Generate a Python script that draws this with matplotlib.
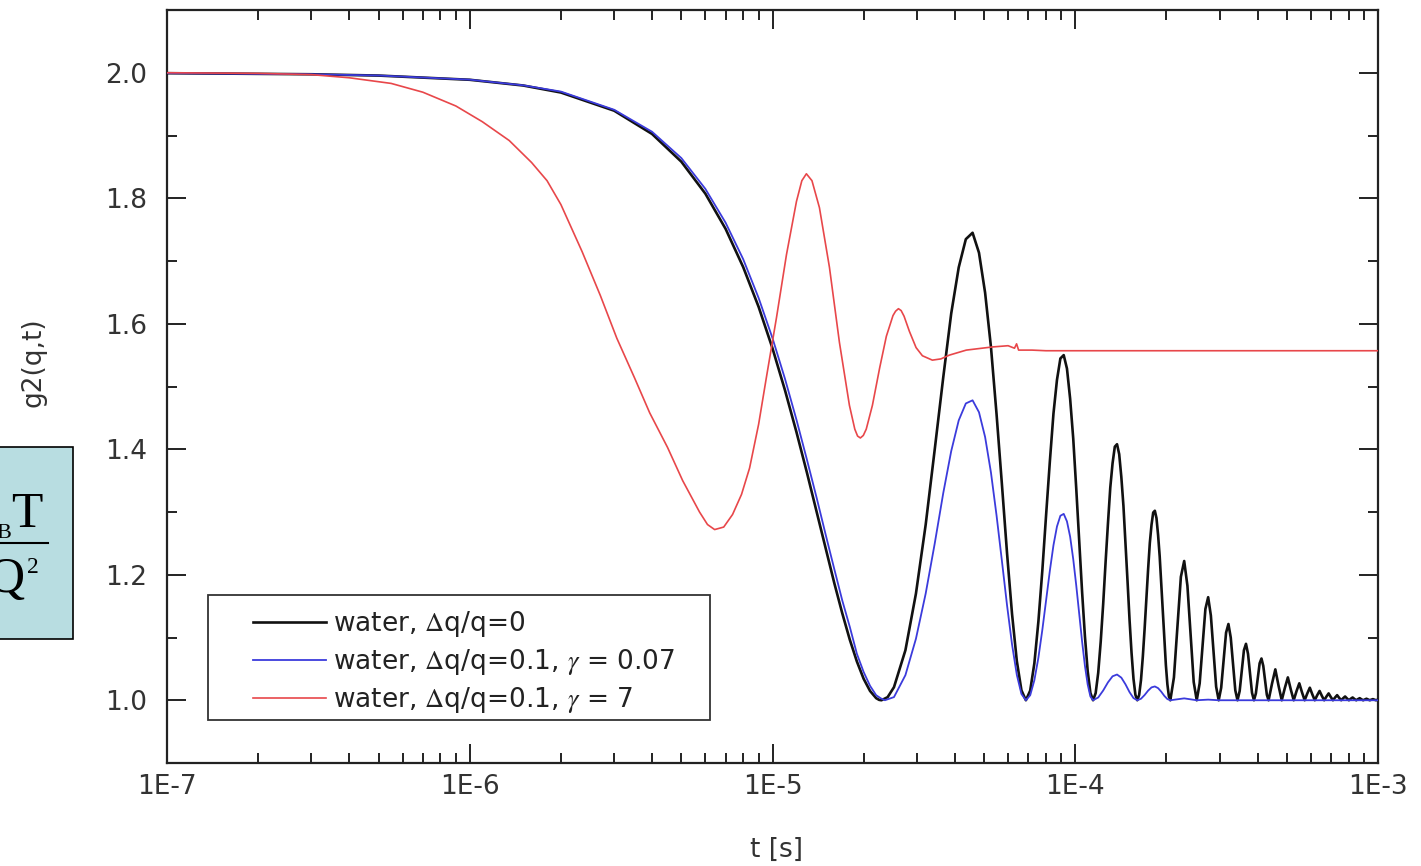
import matplotlib
matplotlib.use('Agg')
import matplotlib.pyplot as plt
import matplotlib.ticker as mticker
from matplotlib.patches import Rectangle
from matplotlib.lines import Line2D
import numpy as np

# ---------------- data (t in microseconds, g2 values) -------------
black_t_us = [0.1, 0.3, 0.5, 1.0, 1.5, 2, 3, 4, 5, 6, 7, 8, 9, 10, 11, 12, 13, 14, 15, 16, 17, 18, 19, 20, 21, 22, 22.5, 22.9, 24.0,
              25.19, 27.48, 29.77, 32.06, 34.35, 36.64, 38.93, 41.22, 43.51, 45.8, 48.09, 50.38, 52.67, 54.96, 57.25, 59.54, 61.83, 64.12, 66.41, 68.7,
              70.99, 73.28, 75.57, 77.86, 80.15, 82.44, 84.73, 87.02, 89.31, 91.6, 93.89, 96.18, 98.47, 100.76, 103.05, 105.34, 107.63, 109.92, 112.21, 114.5,
              116.79, 119.08, 121.37, 123.66, 125.95, 128.24, 130.53, 132.82, 135.11, 137.4, 139.69, 141.98, 144.27, 146.56, 148.85, 151.14, 153.43, 155.72, 158.01, 160.3,
              162.59, 164.88, 167.17, 169.46, 171.75, 174.04, 176.33, 178.62, 180.91, 183.2, 185.49, 187.78, 190.07, 192.36, 194.65, 196.94, 199.23, 201.52, 203.81, 206.1,
              211.8, 217.6, 223.3, 229.0, 234.7, 240.5, 246.2, 251.9,
              257.6, 263.4, 269.1, 274.8, 280.5, 286.3, 292.0, 297.7,
              303.4, 309.2, 314.9, 320.6, 326.3, 332.1, 337.8, 343.5,
              349.2, 355.0, 360.7, 366.4, 372.1, 377.9, 383.6, 389.3,
              395.0, 400.8, 406.5, 412.2, 417.9, 423.7, 429.4, 435.1,
              446.6, 458.0, 469.5, 480.9, 492.4, 503.8, 515.3, 526.7,
              538.2, 549.6, 561.1, 572.5, 584.0, 595.4, 606.9, 618.3,
              629.8, 641.2, 652.7, 664.1, 675.6, 687.0, 698.5, 709.9,
              721.4, 732.8, 744.3, 755.7, 767.2, 778.6, 790.1, 801.5,
              813.0, 824.4, 835.9, 847.3, 858.8, 870.2, 881.7, 893.1,
              904.6, 916.0, 927.5, 938.9, 950.4, 961.8, 973.3, 984.7, 1000.0]
black_g = [1.9993, 1.9976, 1.9955, 1.9888, 1.9797, 1.9685, 1.9395, 1.9025, 1.8582, 1.8074, 1.7512, 1.6904, 1.6268, 1.5608, 1.4938, 1.4273, 1.3623, 1.2997, 1.2410, 1.1867, 1.1386, 1.0966, 1.0617, 1.0342, 1.0148, 1.0033, 1.0006, 1.0, 1.0049,
           1.0208, 1.0797, 1.1699, 1.2798, 1.4000, 1.5144, 1.6163, 1.6898, 1.7348, 1.7450, 1.7131, 1.6494, 1.5630, 1.4560, 1.3441, 1.2336, 1.1376, 1.0626, 1.0159, 1.0,
           1.0154, 1.0590, 1.1260, 1.2071, 1.2965, 1.3807, 1.4568, 1.5105, 1.5447, 1.5500, 1.5286, 1.4806, 1.4173, 1.3374, 1.2551, 1.1728, 1.1020, 1.0464, 1.0118, 1.0,
           1.0114, 1.0437, 1.0934, 1.1532, 1.2200, 1.2817, 1.3389, 1.3777, 1.4041, 1.4080, 1.3921, 1.3556, 1.3096, 1.2497, 1.1892, 1.1279, 1.0757, 1.0343, 1.0087, 1.0,
           1.0085, 1.0323, 1.0692, 1.1134, 1.1628, 1.2085, 1.2508, 1.2796, 1.2991, 1.3020, 1.2902, 1.2632, 1.2292, 1.1848, 1.1401, 1.0947, 1.0560, 1.0254, 1.0065, 1.0,
           1.0364, 1.1196, 1.1967, 1.2219, 1.1824, 1.1029, 1.0290, 1.0,
           1.0269, 1.0885, 1.1455, 1.1642, 1.1350, 1.0762, 1.0215, 1.0,
           1.0199, 1.0655, 1.1077, 1.1215, 1.0999, 1.0564, 1.0159, 1.0,
           1.0147, 1.0485, 1.0797, 1.0899, 1.0739, 1.0417, 1.0118, 1.0,
           1.0109, 1.0359, 1.0589, 1.0665, 1.0547, 1.0308, 1.0087, 1.0,
           1.0265, 1.0492, 1.0228, 1.0, 1.0196, 1.0364, 1.0169, 1.0,
           1.0146, 1.0270, 1.0125, 1.0, 1.0108, 1.0200, 1.0093, 1.0,
           1.0080, 1.0148, 1.0069, 1.0, 1.0059, 1.0109, 1.0051, 1.0,
           1.0044, 1.0081, 1.0038, 1.0, 1.0032, 1.0060, 1.0028, 1.0,
           1.0024, 1.0044, 1.0020, 1.0, 1.0018, 1.0033, 1.0015, 1.0,
           1.0013, 1.0024, 1.0011, 1.0, 1.0010, 1.0018, 1.0008, 1.0, 1.001]

blue_t_us = [0.1, 0.3, 0.5, 1.0, 1.5, 2, 3, 4, 5, 6, 7, 8, 9, 10, 11, 12, 13, 14, 15, 16, 17, 18, 19, 20, 21, 22, 22.8, 23.5,
             25.19, 27.48, 29.77, 32.06, 34.35, 36.64, 38.93, 41.22, 43.51, 45.8, 48.09, 50.38, 52.67, 54.96, 57.25, 59.54, 61.83, 64.12, 66.41, 68.7,
             70.99, 73.28, 75.57, 77.86, 80.15, 82.44, 84.73, 87.02, 89.31, 91.6, 93.89, 96.18, 98.47, 100.76, 103.05, 105.34, 107.63, 109.92, 112.21, 114.5,
             119.08, 123.66, 128.24, 132.82, 137.4, 141.98, 146.56, 151.14, 155.72, 160.3,
             164.88, 169.46, 174.04, 178.62, 183.2, 187.78, 192.36, 196.94, 201.52, 206.1,
             229.0, 251.9, 274.8, 297.7, 1000.0]
blue_g = [1.9993, 1.9976, 1.9956, 1.989, 1.980, 1.970, 1.941, 1.906, 1.864, 1.815, 1.761, 1.703, 1.641, 1.577, 1.512, 1.447, 1.383, 1.322, 1.263, 1.209, 1.159, 1.117, 1.074, 1.045, 1.023, 1.008, 1.003, 1.0,
          1.005, 1.040, 1.098, 1.170, 1.250, 1.330, 1.397, 1.446, 1.473, 1.478, 1.459, 1.4195, 1.363, 1.2945, 1.222, 1.1509, 1.089, 1.0405, 1.010, 1.0,
          1.008, 1.032, 1.068, 1.1123, 1.160, 1.2065, 1.247, 1.2769, 1.294, 1.297, 1.285, 1.2607, 1.225, 1.183, 1.138, 1.0937, 1.055, 1.0251, 1.006, 1.0,
          1.0044, 1.0155, 1.0285, 1.0382, 1.041, 1.036, 1.0253, 1.0129, 1.0035, 1.0,
          1.0024, 1.0083, 1.0153, 1.0205, 1.022, 1.0193, 1.0136, 1.0069, 1.0019, 1.0,
          1.003, 1.0, 1.001, 1.0, 1.0]

red_t_us = [0.1, 0.2, 0.3, 0.4, 0.55, 0.7, 0.9, 1.1, 1.35, 1.6, 1.8, 2.0, 2.35, 2.7, 3.06,
            3.5, 3.93, 4.5, 5.05, 5.74, 6.1, 6.44, 6.9, 7.38, 7.9, 8.4, 9.0, 9.55, 10.31,
            11.12, 12.0, 12.5, 12.94, 13.5, 14.29, 15.42, 16.64, 17.95, 18.7, 19.1, 19.51, 19.95, 20.4,
            21.38, 22.6, 23.77, 25.0, 25.5, 26.06, 26.6, 27.2, 28.32, 29.8, 31.27, 33.73, 36.0, 38.38,
            43.66, 53.2, 60.0, 63.0, 64.0, 65.0, 72.0, 80.0, 100.0, 1000.0]
red_g = [2.000, 1.999, 1.997, 1.992, 1.983, 1.969, 1.947, 1.922, 1.892, 1.857, 1.828, 1.790,
         1.715, 1.645, 1.577, 1.514, 1.458, 1.403, 1.350, 1.300, 1.280, 1.272, 1.276, 1.296,
         1.328, 1.370, 1.440, 1.515, 1.610, 1.710, 1.795, 1.828, 1.839, 1.828, 1.785, 1.690,
         1.570, 1.470, 1.432, 1.421, 1.418, 1.422, 1.432, 1.470, 1.530, 1.580, 1.613, 1.620,
         1.624, 1.621, 1.612, 1.588, 1.562, 1.549, 1.542, 1.544, 1.550, 1.558, 1.563, 1.565,
         1.561, 1.568, 1.558, 1.558, 1.557, 1.557, 1.557]

series_labels = [r'water, $\Delta$q/q=0',
                 r'water, $\Delta$q/q=0.1, $\gamma$ = 0.07',
                 r'water, $\Delta$q/q=0.1, $\gamma$ = 7']

xtick_vals = [1e-7, 1e-6, 1e-5, 1e-4, 1e-3]
xtick_labels = ['1E-7', '1E-6', '1E-5', '1E-4', '1E-3']
ytick_vals = [1.0, 1.2, 1.4, 1.6, 1.8, 2.0]
ytick_labels = ['1.0', '1.2', '1.4', '1.6', '1.8', '2.0']

# ---------------- figure -------------------------------------------------------------
plt.rcParams['font.family'] = ['DejaVu Sans']
plt.rcParams['mathtext.fontset'] = 'stix'

W, H = 1421, 866
fig = plt.figure(figsize=(W / 100, H / 100), dpi=100)
ax = fig.add_axes([167 / W, 1 - 763 / H, (1378 - 167) / W, (763 - 10) / H])

US = 1e-6
l1, = ax.plot(np.array(black_t_us) * US, black_g, color='#111111', lw=1.9, label=series_labels[0], zorder=3)
l2, = ax.plot(np.array(blue_t_us) * US, blue_g, color='#3b3bdc', lw=1.3, label=series_labels[1], zorder=4)
l3, = ax.plot(np.array(red_t_us) * US, red_g, color='#e8474a', lw=1.2, label=series_labels[2], zorder=5)

ax.set_xscale('log')
ax.set_xlim(1e-7, 1e-3)
ax.set_ylim(0.9, 2.1)
ax.set_xticks(xtick_vals)
ax.set_xticklabels(xtick_labels)
ax.xaxis.set_minor_locator(mticker.LogLocator(base=10, subs=np.arange(2, 10), numticks=100))
ax.xaxis.set_minor_formatter(mticker.NullFormatter())
ax.set_yticks(ytick_vals)
ax.set_yticklabels(ytick_labels)
ax.yaxis.set_minor_locator(mticker.FixedLocator([0.9, 1.1, 1.3, 1.5, 1.7, 1.9, 2.1]))

ax.tick_params(which='both', direction='in', top=True, right=True, width=1.4, color='#222222')
ax.tick_params(which='major', length=14, labelsize=19, labelcolor='#333333')
ax.tick_params(which='minor', length=7)
ax.tick_params(axis='x', which='major', pad=8)
ax.tick_params(axis='y', which='major', pad=14)
for s in ax.spines.values():
    s.set_linewidth(1.6)
    s.set_color('#222222')

fig.text(777 / W, 1 - 850 / H, 't [s]', ha='center', va='center', fontsize=19, color='#333333')
fig.text(33 / W, 1 - 362 / H, 'g2(q,t)', ha='center', va='center', rotation=90, fontsize=19, color='#333333')

# legend: frameless entries + separate frame rectangle
leg = ax.legend(handles=[l1, l2, l3], loc='upper left', bbox_to_anchor=(0.0605, 0.222),
                frameon=False, borderpad=0, handlelength=2.73, handletextpad=0.3,
                labelspacing=0.3, fontsize=19)
for t in leg.get_texts():
    t.set_color('#222222')
ax.add_patch(Rectangle(((208 - 167) / 1211, (763 - 720) / 753), (710 - 208) / 1211, (720 - 595) / 753,
                       transform=ax.transAxes, fill=False, edgecolor='#333333', lw=1.3, zorder=6))

# partially visible box at the left edge (cut by the figure edge, as in the reference)
fig.add_artist(Rectangle((-6 / W, 1 - 639 / H), 78.5 / W, 192 / H, transform=fig.transFigure,
                         facecolor='#b8dde1', edgecolor='black', lw=1.2))
fig.text(43 / W, 1 - 527 / H, 'T', ha='right', va='baseline', fontfamily='Liberation Serif', fontsize=37)
fig.text(11 / W, 1 - 538 / H, 'B', ha='right', va='baseline', fontfamily='Liberation Serif', fontsize=16)
fig.add_artist(Line2D([0, 48 / W], [1 - 543 / H, 1 - 543 / H], transform=fig.transFigure, color='black', lw=1.5))
fig.text(25 / W, 1 - 592 / H, 'Q', ha='right', va='baseline', fontfamily='Liberation Serif', fontsize=37)
fig.text(27 / W, 1 - 573 / H, '2', ha='left', va='baseline', fontfamily='Liberation Serif', fontsize=17)

fig.savefig('out.png', dpi=100, facecolor='white')
